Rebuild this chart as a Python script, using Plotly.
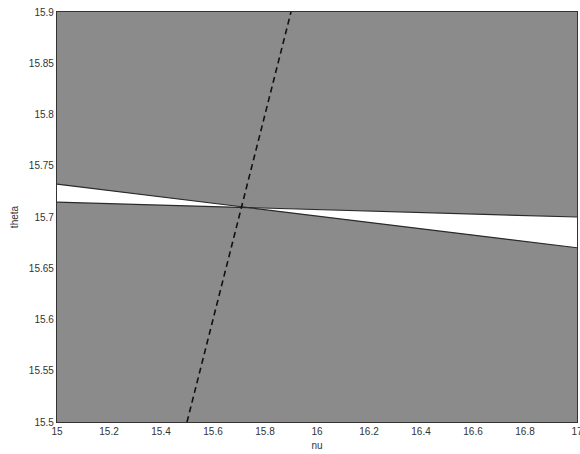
import plotly.graph_objects as go

# nu range endpoints and the two bounding curves of theta
nu = [15.0, 17.0]
theta_steep = [15.732, 15.670]   # steeper boundary
theta_flat = [15.7145, 15.700]   # flatter boundary

# diagonal reference line theta = nu
diag_nu = [15.5, 15.9]
diag_theta = [15.5, 15.9]

x_ticks = [15, 15.2, 15.4, 15.6, 15.8, 16, 16.2, 16.4, 16.6, 16.8, 17]
x_labels = ["15", "15.2", "15.4", "15.6", "15.8", "16", "16.2", "16.4", "16.6", "16.8", "17"]
y_ticks = [15.5, 15.55, 15.6, 15.65, 15.7, 15.75, 15.8, 15.85, 15.9]
y_labels = ["15.5", "15.55", "15.6", "15.65", "15.7", "15.75", "15.8", "15.85", "15.9"]

gray = "#8b8b8b"
line_col = "#2a2a2a"
font_family = "Liberation Sans, Arial, sans-serif"

fig = go.Figure()

# flatter boundary
fig.add_trace(go.Scatter(
    x=nu, y=theta_flat, mode="lines",
    line=dict(color=line_col, width=1.2), showlegend=False, hoverinfo="skip"))

# steeper boundary; the white wedge between the two curves is the feasible region
fig.add_trace(go.Scatter(
    x=nu, y=theta_steep, mode="lines",
    line=dict(color=line_col, width=1.2), fill="tonexty", fillcolor="white",
    showlegend=False, hoverinfo="skip"))

# dashed diagonal
fig.add_trace(go.Scatter(
    x=diag_nu, y=diag_theta, mode="lines",
    line=dict(color="#111111", width=1.6, dash="6px,4px"),
    showlegend=False, hoverinfo="skip"))

axis_common = dict(
    showgrid=False, zeroline=False, showline=True, mirror=True,
    linecolor="#333333", linewidth=1.2, ticks="",
    ticklabeloverflow="allow", automargin=False,
    tickfont=dict(family=font_family, size=10, color="#333333"),
)

fig.update_layout(
    width=580, height=454,
    margin=dict(l=57, r=3, t=12, b=32),
    paper_bgcolor="white",
    plot_bgcolor=gray,
    xaxis=dict(range=[15, 17], tickvals=x_ticks, ticktext=x_labels,
               title=dict(text="nu", standoff=5,
                          font=dict(family=font_family, size=10, color="#333333")),
               **axis_common),
    yaxis=dict(range=[15.5, 15.9], tickvals=y_ticks, ticktext=y_labels,
               title=dict(text="theta", standoff=8,
                          font=dict(family=font_family, size=10, color="#333333")),
               **axis_common),
)

fig.write_html("out.html")
